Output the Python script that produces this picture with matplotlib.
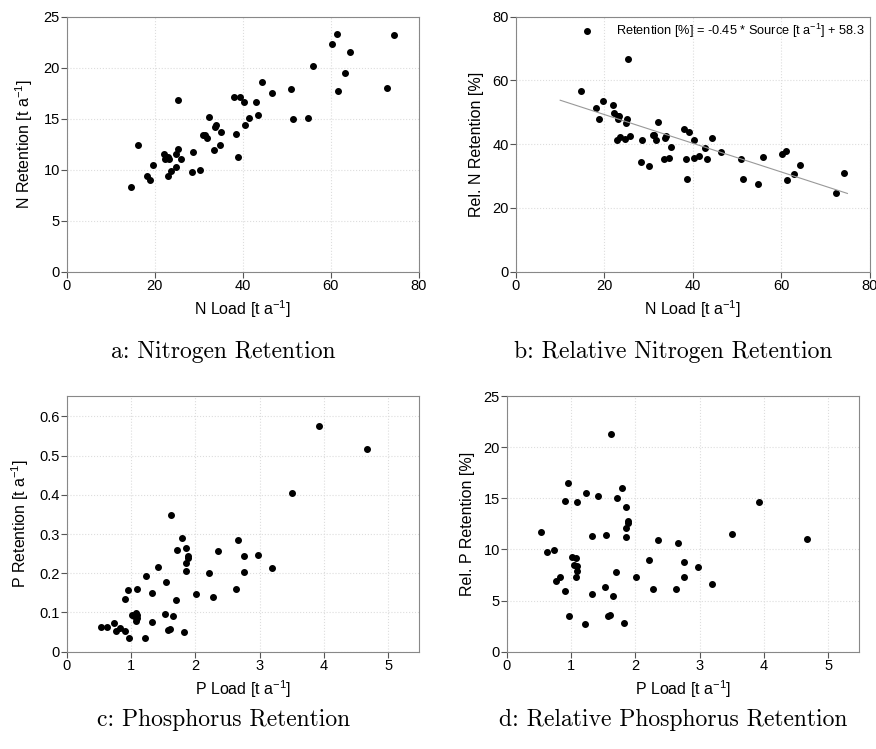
import matplotlib
matplotlib.use('Agg')
import matplotlib.pyplot as plt
from matplotlib.lines import Line2D
import numpy as np

# nitrogen: load vs absolute retention (panel a)
n_load = [14.7, 16.2, 19.7, 18.2, 18.9, 22.0, 22.3, 23.1, 23.3, 22.9, 23.6, 24.8, 25.3, 26.0, 24.8,
          25.3, 28.5, 30.3, 28.6, 31.0, 31.3, 31.9, 32.2, 33.7, 34.0, 35.1, 33.5, 34.7, 38.1, 39.3,
          40.3, 38.5, 39.0, 40.4, 41.5, 43.0, 43.4, 44.3, 46.6, 50.9, 51.5, 54.9, 56.0, 60.3, 61.4,
          61.6, 63.2, 64.4, 72.7, 74.4]
n_ret = [8.30, 12.39, 10.49, 9.35, 9.02, 11.50, 11.08, 11.27, 11.08, 9.38, 9.90, 11.50, 12.06, 11.05, 10.29,
         16.86, 9.80, 10.00, 11.76, 13.37, 13.40, 13.10, 15.16, 14.18, 14.41, 13.73, 11.90, 12.42, 17.09, 17.09,
         16.63, 13.53, 11.27, 14.38, 15.03, 16.63, 15.36, 18.59, 17.52, 17.94, 14.93, 15.03, 20.20, 22.29, 23.30,
         17.71, 19.48, 21.57, 18.00, 23.17]

# nitrogen: relative retention (panel b)
n_load_b = [14.6, 25.3, 18.2, 19.6, 18.8, 22.0, 22.2, 23.0, 23.2, 23.1, 25.2, 24.8, 22.8, 23.5, 24.7,
            25.9, 28.5, 28.4, 30.2, 31.1, 31.3, 32.1, 31.7, 33.7, 34.0, 35.1, 33.4, 34.7, 38.1, 39.1,
            40.3, 38.4, 38.8, 40.3, 41.5, 42.8, 43.2, 44.3, 46.5, 50.9, 51.3, 54.7, 55.9, 60.1, 61.2,
            61.4, 63.0, 64.2, 72.5, 74.3]
n_rel = [56.8, 66.7, 51.3, 53.4, 47.9, 52.4, 49.8, 49.0, 48.7, 47.9, 47.9, 46.5, 41.2, 42.3, 41.6,
         42.5, 41.3, 34.4, 33.1, 42.9, 42.8, 47.1, 41.3, 42.1, 42.5, 39.2, 35.5, 35.7, 44.9, 43.7,
         41.3, 35.3, 29.0, 35.7, 36.2, 38.7, 35.4, 42.1, 37.6, 35.2, 29.0, 27.4, 36.1, 37.0, 38.0,
         28.7, 30.8, 33.5, 24.7, 31.1]
fit_slope = -0.45
fit_intercept = 58.3
fit_range = [10, 75]

# phosphorus (panels c and d)
p_load = [0.53, 0.63, 0.73, 0.77, 0.83, 0.90, 0.91, 0.95, 0.97, 1.01, 1.05, 1.08, 1.08, 1.09, 1.10,
          1.10, 1.22, 1.24, 1.33, 1.33, 1.42, 1.53, 1.55, 1.58, 1.61, 1.63, 1.66, 1.70, 1.72, 1.80,
          1.82, 1.85, 1.85, 1.86, 1.89, 1.89, 2.01, 2.21, 2.28, 2.35, 2.63, 2.67, 2.76, 2.76, 2.97,
          3.20, 3.50, 3.92, 4.67]
p_ret = [0.063, 0.062, 0.073, 0.054, 0.060, 0.054, 0.135, 0.158, 0.034, 0.093, 0.091, 0.099, 0.079, 0.160, 0.093,
         0.086, 0.034, 0.194, 0.076, 0.150, 0.217, 0.097, 0.178, 0.055, 0.058, 0.348, 0.090, 0.133, 0.260, 0.290,
         0.051, 0.207, 0.225, 0.265, 0.243, 0.238, 0.148, 0.200, 0.139, 0.257, 0.161, 0.285, 0.202, 0.243, 0.247,
         0.214, 0.405, 0.575, 0.516]
p_rel = [11.73, 9.78, 9.94, 6.91, 7.27, 5.93, 14.77, 16.49, 3.46, 9.22, 8.47, 9.13, 7.27, 14.60, 8.41,
         7.92, 2.71, 15.55, 5.67, 11.31, 15.19, 6.29, 11.38, 3.49, 3.62, 21.25, 5.44, 7.79, 14.99, 16.00,
         2.84, 11.18, 12.06, 14.15, 12.78, 12.58, 7.27, 9.00, 6.10, 10.89, 6.13, 10.59, 7.27, 8.74, 8.28,
         6.65, 11.51, 14.60, 10.98]

plt.rcParams['mathtext.fontset'] = 'custom'
plt.rcParams['mathtext.rm'] = 'Liberation Sans'
plt.rcParams['mathtext.it'] = 'Liberation Sans'
plt.rcParams['font.family'] = ['Liberation Sans', 'DejaVu Sans']

W, H = 876, 749
fig = plt.figure(figsize=(W / 100, H / 100), dpi=100)

def box(l, r, t, b):
    return [l / W, 1 - b / H, (r - l) / W, (b - t) / H]

ax_a = fig.add_axes(box(66.7, 419, 16.7, 271.7))
ax_b = fig.add_axes(box(516, 869.5, 16.7, 271.7))
ax_c = fig.add_axes(box(66.7, 419, 396, 651.7))
ax_d = fig.add_axes(box(506.7, 859, 396, 651.7))

unit = r' [t a$^{\mathregular{-1}}$]'
ms = 4.0

def style(ax, xlim, ylim, xticks, yticks, xlabel, ylabel):
    ax.set_xlim(xlim)
    ax.set_ylim(ylim)
    ax.set_xticks(xticks)
    ax.set_yticks(yticks)
    ax.set_xticklabels([('%g' % v) for v in xticks], family=['Liberation Sans Narrow', 'Liberation Sans'], fontsize=10.5)
    ax.set_yticklabels([('%g' % v) for v in yticks], family=['Liberation Sans Narrow', 'Liberation Sans'], fontsize=10.5)
    ax.grid(True, color='#dddddd', linestyle=':', linewidth=0.8)
    ax.set_axisbelow(True)
    for s in ax.spines.values():
        s.set_color('#888888')
        s.set_linewidth(0.8)
    ax.tick_params(direction='out', length=4, width=0.8, color='#555555', pad=1)
    ax.set_xlabel(xlabel, fontsize=11.5, labelpad=4)
    ax.set_ylabel(ylabel, fontsize=11.5, labelpad=6)

ax_a.plot(n_load, n_ret, 'o', color='black', markersize=ms, clip_on=False)
style(ax_a, (0, 80), (0, 25), [0, 20, 40, 60, 80], [0, 5, 10, 15, 20, 25],
      'N Load' + unit, 'N Retention' + unit)

ax_b.plot(n_load_b, n_rel, 'o', color='black', markersize=ms, clip_on=False)
fx = np.array(fit_range, dtype=float)
ax_b.plot(fx, fit_slope * fx + fit_intercept, '-', color='#999999', linewidth=0.8)
style(ax_b, (0, 80), (0, 80), [0, 20, 40, 60, 80], [0, 20, 40, 60, 80],
      'N Load' + unit, 'Rel. N Retention [%]')
h = Line2D([], [], marker='o', color='black', linestyle='none', markersize=ms)
ax_b.legend([h], ['Retention [%] = -0.45 * Source' + unit + ' + 58.3'], loc='upper right',
            frameon=False, fontsize=9.2, handlelength=2, handletextpad=1.2,
            borderpad=0.0, borderaxespad=0.4)

ax_c.plot(p_load, p_ret, 'o', color='black', markersize=ms, clip_on=False)
style(ax_c, (0, 5.48), (0, 0.652), [0, 1, 2, 3, 4, 5], [0, 0.1, 0.2, 0.3, 0.4, 0.5, 0.6],
      'P Load' + unit, 'P Retention' + unit)

ax_d.plot(p_load, p_rel, 'o', color='black', markersize=ms, clip_on=False)
style(ax_d, (0, 5.48), (0, 25), [0, 1, 2, 3, 4, 5], [0, 5, 10, 15, 20, 25],
      'P Load' + unit, 'Rel. P Retention [%]')

captions = ['a: Nitrogen Retention', 'b: Relative Nitrogen Retention',
            'c: Phosphorus Retention', 'd: Relative Phosphorus Retention']
cap_pos = [(223, 352), (673, 352), (224, 720), (673, 720)]
for txt, (cx, cy) in zip(captions, cap_pos):
    fig.text(cx / W, 1 - cy / H, txt, family='cmr10', fontsize=17, ha='center', va='center')

fig.savefig('out.png', dpi=100)
